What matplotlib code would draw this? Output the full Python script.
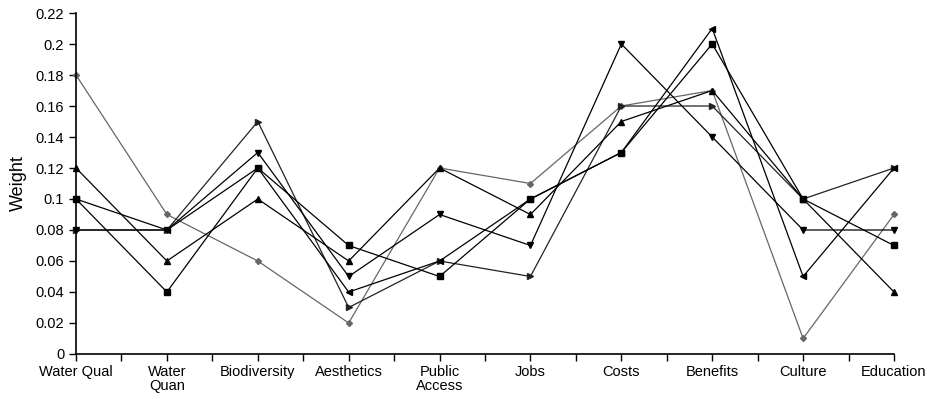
import numpy as np
import matplotlib.pyplot as plt

plt.rcParams['font.family'] = ['Liberation Sans', 'DejaVu Sans']

categories = ['Water Qual', 'Water\nQuan', 'Biodiversity', 'Aesthetics', 'Public\nAccess',
              'Jobs', 'Costs', 'Benefits', 'Culture', 'Education']

diamond = [0.18, 0.09, 0.06, 0.02, 0.12, 0.11, 0.16, 0.17, 0.01, 0.09]
tri_up = [0.12, 0.06, 0.10, 0.06, 0.12, 0.09, 0.15, 0.17, 0.10, 0.04]
tri_down = [0.08, 0.08, 0.13, 0.05, 0.09, 0.07, 0.20, 0.14, 0.08, 0.08]
tri_right = [0.08, 0.08, 0.15, 0.03, 0.06, 0.05, 0.16, 0.16, 0.10, 0.12]
square = [0.10, 0.04, 0.12, 0.07, 0.05, 0.10, 0.13, 0.20, 0.10, 0.07]
tri_left = [0.10, 0.08, 0.12, 0.04, 0.06, 0.10, 0.13, 0.21, 0.05, 0.12]

series = [
    (diamond, 'D', '#666666', 3.0),
    (tri_right, '>', '#222222', 4.0),
    (tri_left, '<', '#000000', 4.0),
    (tri_down, 'v', '#000000', 4.0),
    (tri_up, '^', '#000000', 4.0),
    (square, 's', '#000000', 4.0),
]

fig = plt.figure(figsize=(9.27, 3.99), dpi=100, facecolor='white')
ax = fig.add_axes([0.082, 0.1128, 0.8824, 0.8546])

x = np.arange(len(categories))
for vals, mk, col, ms in series:
    ax.plot(x, vals, color=col, lw=0.9, marker=mk, markersize=ms,
            markerfacecolor=col, markeredgecolor=col, clip_on=False)

ax.set_xlim(0, len(categories) - 1)
ax.set_ylim(0, 0.22)
ax.set_xticks(x)
ax.set_xticklabels(categories, fontsize=10.5, linespacing=0.95)
ax.set_xticks(x[:-1] + 0.5, minor=True)
yt = np.arange(0, 0.2201, 0.02)
ax.set_yticks(yt)
ax.set_yticklabels(['0'] + [f'{v:g}' for v in yt[1:]], fontsize=10.5)
ax.tick_params(axis='both', which='both', direction='out', length=5, width=1)
ax.tick_params(axis='x', pad=3)
ax.set_ylabel('Weight', fontsize=13, labelpad=6)

for s in ['top', 'right']:
    ax.spines[s].set_visible(False)
ax.spines['left'].set_linewidth(1.2)
ax.spines['bottom'].set_linewidth(1.2)

fig.savefig('out.png', dpi=100, facecolor='white')
